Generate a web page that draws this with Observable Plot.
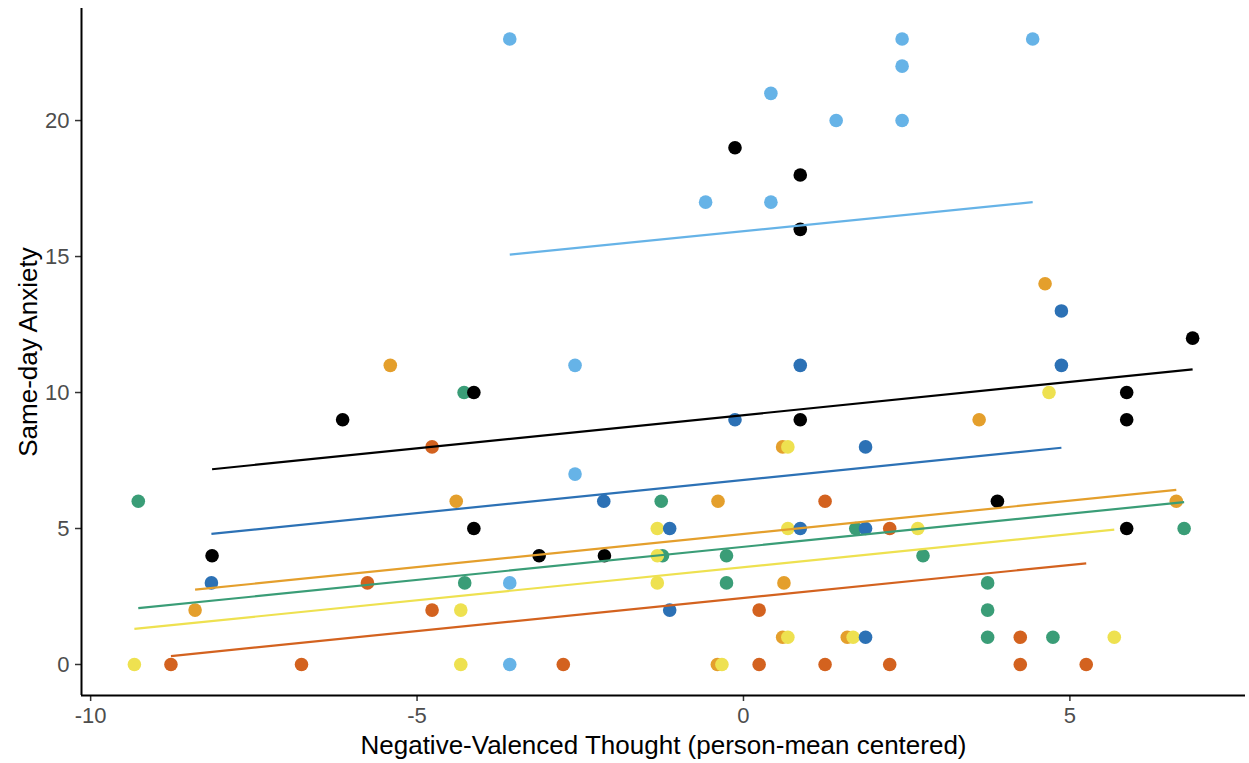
<!DOCTYPE html>
<html>
<head>
<meta charset="utf-8">
<script src="https://cdn.jsdelivr.net/npm/d3@7"></script>
<script src="https://cdn.jsdelivr.net/npm/@observablehq/plot@0.6"></script>
<style>
  html, body { margin: 0; padding: 0; background: #fff; }
</style>
</head>
<body>
<div id="chart"></div>
<script>
// ---- Data ----
const groupNames = ["vermillion", "orange", "green", "yellow", "skyblue", "blue", "black"];
const groupColors = ["#D3621F", "#E49F2C", "#3A9D77", "#EEE150", "#66B3E7", "#2C71B5", "#000000"];

const xVermillion = [-8.77, -6.77, -5.76, -4.77, -4.77, -2.76, 0.24, 0.24, 1.25, 1.25, 2.24, 2.24, 4.24, 4.24, 5.25];
const yVermillion = [0, 0, 3, 8, 2, 0, 2, 0, 6, 0, 5, 0, 1, 0, 0];

const xOrange = [-8.40, -5.41, -4.40, -0.39, -0.40, 0.60, 0.62, 0.60, 1.59, 3.61, 4.62, 6.63];
const yOrange = [2, 11, 6, 6, 0, 8, 3, 1, 1, 9, 14, 6];

const xGreen = [-9.27, -4.28, -4.27, -1.26, -1.24, -0.26, -0.26, 1.72, 2.75, 3.74, 3.74, 3.74, 4.74, 6.75];
const yGreen = [6, 10, 3, 6, 4, 4, 3, 5, 4, 3, 2, 1, 1, 5];

const xYellow = [-9.33, -4.33, -4.33, -1.32, -1.32, -1.32, -0.33, 0.68, 0.68, 0.68, 1.68, 2.67, 4.68, 5.68];
const yYellow = [0, 2, 0, 5, 4, 3, 0, 8, 5, 1, 1, 5, 10, 1];

const xSkyblue = [-3.58, 0.42, -0.58, 0.42, 1.42, 2.43, 2.43, 2.43, 4.43, -2.58, -2.58, -3.58, -3.58];
const ySkyblue = [23, 21, 17, 17, 20, 23, 22, 20, 23, 11, 7, 3, 0];

const xBlue = [-8.15, -2.14, -1.13, -1.13, -0.13, 0.87, 0.87, 1.87, 1.87, 1.87, 4.87, 4.87];
const yBlue = [3, 6, 5, 2, 9, 11, 5, 8, 5, 1, 13, 11];

const xBlack = [-8.14, -6.14, -4.13, -4.13, -3.13, -2.13, -0.13, 0.87, 0.87, 0.87, 3.89, 5.87, 5.87, 5.87, 6.88];
const yBlack = [4, 9, 10, 5, 4, 4, 19, 18, 16, 9, 6, 10, 9, 5, 12];

// fitted lines per group (same order as groupNames): start/end points
const lineX1 = [-8.77, -8.40, -9.27, -9.33, -3.58, -8.15, -8.14];
const lineY1 = [0.31, 2.75, 2.07, 1.31, 15.07, 4.80, 7.18];
const lineX2 = [5.25, 6.63, 6.75, 5.68, 4.43, 4.87, 6.88];
const lineY2 = [3.72, 6.42, 5.97, 4.96, 17.00, 7.97, 10.85];

const xTicks = [-10, -5, 0, 5];
const yTicks = [0, 5, 10, 15, 20];
const xDomain = [-10.14, 7.69];
const yDomain = [-1.14, 24.12];

const xTitle = "Negative-Valenced Thought (person-mean centered)";
const yTitle = "Same-day Anxiety";

// ---- Build tables ----
const seriesX = [xVermillion, xOrange, xGreen, xYellow, xSkyblue, xBlue, xBlack];
const seriesY = [yVermillion, yOrange, yGreen, yYellow, ySkyblue, yBlue, yBlack];
const points = [];
groupNames.forEach((g, i) => {
  seriesX[i].forEach((x, j) => points.push({group: g, x, y: seriesY[i][j]}));
});
const lines = groupNames.map((g, i) => ({group: g, x1: lineX1[i], y1: lineY1[i], x2: lineX2[i], y2: lineY2[i]}));

const chart = Plot.plot({
  width: 1249,
  height: 763,
  marginLeft: 81,
  marginRight: 4,
  marginTop: 8,
  marginBottom: 68,
  style: {fontFamily: "'Liberation Sans', Arial, sans-serif", fontSize: "22px", background: "#fff"},
  x: {domain: xDomain},
  y: {domain: yDomain},
  color: {domain: groupNames, range: groupColors},
  marks: [
    Plot.axisX({ticks: xTicks, tickFormat: d => String(d), tickSize: 6, tickPadding: 6, fontSize: 22,
      stroke: "#333", strokeWidth: 1.5, fill: "#4D4D4D", label: null}),
    Plot.axisY({ticks: yTicks, tickFormat: d => String(d), tickSize: 6, tickPadding: 6, fontSize: 22,
      stroke: "#333", strokeWidth: 1.5, fill: "#4D4D4D", label: null}),
    Plot.dot(points, {x: "x", y: "y", fill: "group", r: 6.8, stroke: "none"}),
    Plot.link(lines, {x1: "x1", y1: "y1", x2: "x2", y2: "y2", stroke: "group", strokeWidth: 2.2}),
    Plot.ruleX([xDomain[0]], {stroke: "#000", strokeWidth: 2}),
    Plot.ruleY([yDomain[0]], {stroke: "#000", strokeWidth: 2}),
    Plot.text([xTitle], {frameAnchor: "bottom", dy: 50, lineAnchor: "middle", textAnchor: "middle", fontSize: 26, fill: "#000"}),
    Plot.text([yTitle], {frameAnchor: "left", rotate: -90, dx: -53, lineAnchor: "middle", textAnchor: "middle", fontSize: 26, fill: "#000"})
  ]
});
document.getElementById("chart").appendChild(chart);
</script>
</body>
</html>
